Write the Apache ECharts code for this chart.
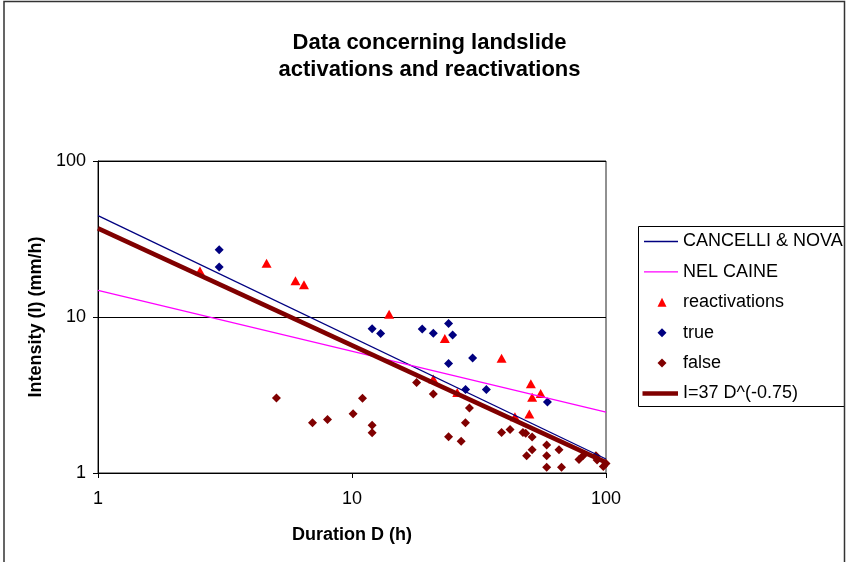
<!DOCTYPE html>
<html><head><meta charset="utf-8">
<script src="https://cdn.jsdelivr.net/npm/echarts@6/dist/echarts.min.js"></script>
<style>html,body{margin:0;padding:0;background:#fff}#chart{width:847px;height:562px}</style>
</head><body><div id="chart"></div>
<script>
const titleText = 'Data concerning landslide\nactivations and reactivations';
const xAxisName = 'Duration D (h)';
const yAxisName = 'Intensity (I) (mm/h)';
const seriesNames = ['CANCELLI & NOVA', 'NEL CAINE', 'reactivations', 'true', 'false', 'I=37 D^(-0.75)'];

// threshold lines (endpoints at D = 1 h and D = 100 h)
const cancelliNova = [[1, 44.67], [100, 1.23]];
const nelCaine = [[1, 14.82], [100, 2.46]];
const fitLine = [[1, 37], [100, 1.17]];

// [duration h, intensity mm/h]
const reactivations = [[2.52,19.7],[4.61,22.1],[5.99,17.1],[6.47,16.1],[14.0,10.4],[23.2,7.27],[38.8,5.44],[20.9,4.01],[25.96,3.28],[50.6,3.74],[51.2,3.06],[55.3,3.23],[49.9,2.39],[43.8,2.29]];
const trueEvents = [[3.0,27.0],[3.0,20.9],[12.0,8.4],[12.96,7.83],[18.9,8.39],[20.9,7.86],[24.0,9.07],[24.9,7.67],[24.0,5.03],[29.85,5.46],[28.0,3.43],[33.8,3.43],[58.8,2.85]];
const falseEvents = [[5.04,3.02],[6.99,2.10],[8.01,2.20],[10.1,2.40],[11.0,3.01],[12.0,2.02],[12.0,1.81],[17.96,3.81],[20.9,3.21],[29.0,2.61],[27.96,2.10],[24.0,1.71],[26.9,1.60],[38.8,1.82],[41.9,1.90],[47.1,1.82],[48.3,1.80],[51.2,1.70],[51.2,1.41],[48.7,1.29],[58.4,1.51],[58.4,1.29],[65.3,1.41],[58.4,1.09],[66.8,1.09],[78.3,1.22],[81.2,1.29],[91.3,1.29],[92.2,1.21],[97.6,1.10],[100,1.15]];

const FONT = '"Liberation Sans", Arial, sans-serif';
const legendText = {fontSize: 18, color: '#000', fontFamily: FONT};
const chart = echarts.init(document.getElementById('chart'), null, {renderer: 'canvas'});
chart.setOption({
  animation: false,
  backgroundColor: '#fff',
  graphic: [
    {type: 'rect', shape: {x: 4, y: 1.5, width: 840.5, height: 580}, style: {fill: 'none', stroke: '#333', lineWidth: 1.5}, silent: true},
    {type: 'rect', shape: {x: 638.5, y: 226.5, width: 206, height: 180}, style: {fill: '#fff', stroke: '#000', lineWidth: 1}, silent: true, z: -1},
    {type: 'text', x: 429.5, y: 29.5, style: {text: titleText, align: 'center', verticalAlign: 'top', fontSize: 22, fontWeight: 'bold', fontFamily: FONT, lineHeight: 27, fill: '#000'}, silent: true}
  ],
  grid: {left: 98, top: 161, right: 241, bottom: 89, show: true, borderColor: '#222', borderWidth: 1, backgroundColor: 'transparent'},
  legend: [
    {
      orient: 'vertical', left: 644, top: 232.5, padding: 0, itemGap: 12.4,
      itemWidth: 34, itemHeight: 9, selectedMode: false, textStyle: legendText,
      data: [
        {name: seriesNames[0], icon: 'path://M0,0H34V1.3H0Z', itemStyle: {color: '#000080'}},
        {name: seriesNames[1], icon: 'path://M0,0H34V1.3H0Z', itemStyle: {color: '#FF00FF'}}
      ]
    },
    {
      orient: 'vertical', left: 657.5, top: 293.3, padding: 0, itemGap: 12.4,
      itemWidth: 9, itemHeight: 9, selectedMode: false,
      textStyle: Object.assign({padding: [0, 0, 0, 11.5]}, legendText),
      data: [
        {name: seriesNames[2], icon: 'triangle', itemStyle: {color: '#FF0000'}},
        {name: seriesNames[3], icon: 'diamond', itemStyle: {color: '#000080'}},
        {name: seriesNames[4], icon: 'diamond', itemStyle: {color: '#800000'}}
      ]
    },
    {
      orient: 'vertical', left: 642.5, top: 384.5, padding: 0,
      itemWidth: 35.5, itemHeight: 9, selectedMode: false, textStyle: legendText,
      data: [
        {name: seriesNames[5], icon: 'path://M0,0H36V4.5H0Z', itemStyle: {color: '#800000'}}
      ]
    }
  ],
  xAxis: {
    type: 'log', logBase: 10, min: 1, max: 100,
    name: xAxisName, nameLocation: 'middle', nameGap: 53,
    nameTextStyle: {fontSize: 18, fontWeight: 'bold', color: '#000', fontFamily: FONT},
    axisLine: {lineStyle: {color: '#000', width: 1}},
    axisTick: {show: true, inside: false, length: 5, lineStyle: {color: '#000'}},
    axisLabel: {fontSize: 18, color: '#000', fontFamily: FONT, margin: 17},
    splitLine: {show: false}, minorTick: {show: false}
  },
  yAxis: {
    type: 'log', logBase: 10, min: 1, max: 100,
    name: yAxisName, nameLocation: 'middle', nameGap: 50,
    nameTextStyle: {fontSize: 18, fontWeight: 'bold', color: '#000', fontFamily: FONT},
    axisLine: {show: true, lineStyle: {color: '#000', width: 1}},
    axisTick: {show: true, inside: false, length: 5, lineStyle: {color: '#000'}},
    axisLabel: {fontSize: 18, color: '#000', fontFamily: FONT, margin: 12},
    splitLine: {show: true, lineStyle: {color: '#000', width: 1}}
  },
  series: [
    {name: seriesNames[0], type: 'line', data: cancelliNova, symbol: 'none', lineStyle: {color: '#000080', width: 1.3}, itemStyle: {color: '#000080'}, emphasis: {disabled: true}},
    {name: seriesNames[1], type: 'line', data: nelCaine, symbol: 'none', lineStyle: {color: '#FF00FF', width: 1.3}, itemStyle: {color: '#FF00FF'}, emphasis: {disabled: true}},
    {name: seriesNames[2], type: 'scatter', data: reactivations, symbol: 'triangle', symbolSize: [10, 9], itemStyle: {color: '#FF0000', opacity: 1}, emphasis: {disabled: true}},
    {name: seriesNames[3], type: 'scatter', data: trueEvents, symbol: 'diamond', symbolSize: 9, itemStyle: {color: '#000080', opacity: 1}, emphasis: {disabled: true}},
    {name: seriesNames[4], type: 'scatter', data: falseEvents, symbol: 'diamond', symbolSize: 9, itemStyle: {color: '#800000', opacity: 1}, emphasis: {disabled: true}},
    {name: seriesNames[5], type: 'line', data: fitLine, symbol: 'none', lineStyle: {color: '#800000', width: 4.5}, itemStyle: {color: '#800000'}, emphasis: {disabled: true}}
  ]
});
</script></body></html>
